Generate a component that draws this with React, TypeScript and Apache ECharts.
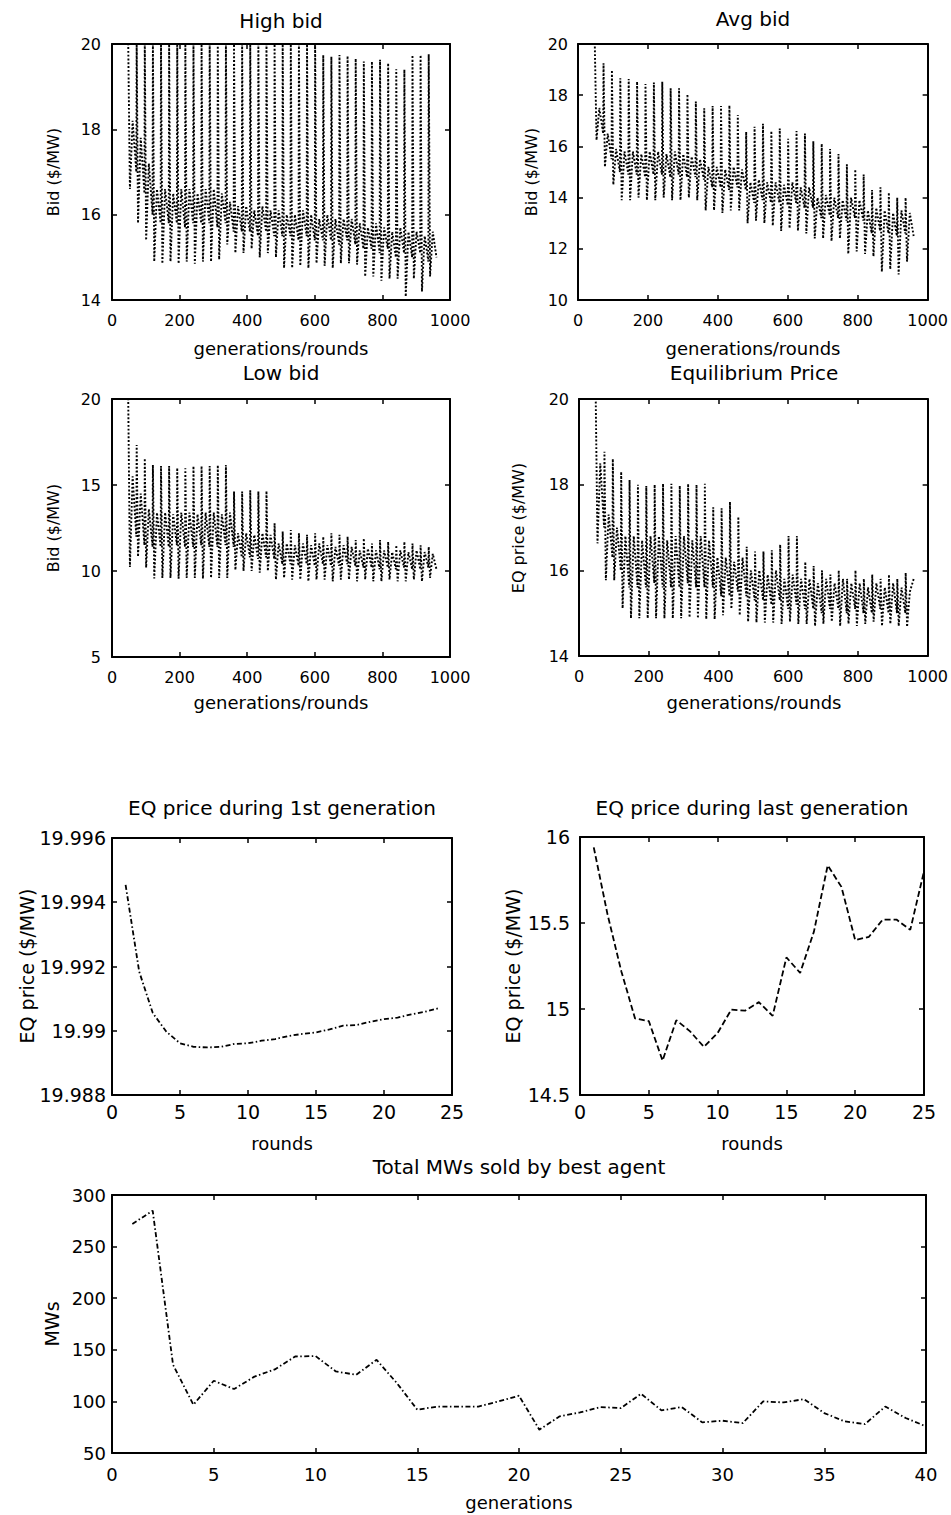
import React, { useEffect, useRef } from "react";
import * as echarts from "echarts";

const FONT = "'DejaVu Sans', sans-serif";

// ---------- data ----------
// Dense panels: 40 generations x 24 rounds. For each generation the values read off
// the picture: spike top (round 1), spike bottom, and the two edges of the band.
const ROUNDS_PER_GEN = 24;
const GEN_KEY_ROUNDS = [1, 5, 13, 24];

const HIGH_TOP = [20, 20, 20, 20, 20, 20, 20, 20, 20, 20, 20, 20, 20, 20, 20, 20, 20, 20, 20, 20, 20, 20, 20, 20, 20, 20, 19.74, 19.7, 19.74, 19.72, 19.66, 19.59, 19.59, 19.63, 19.55, 19.41, 19.4, 19.74, 19.74, 19.76];
const HIGH_LOW = [20, 20, 16.6, 15.8, 15.4, 14.9, 14.85, 14.9, 14.85, 14.9, 14.85, 14.9, 14.9, 14.95, 15.3, 15.1, 15.1, 15.2, 15.0, 15.1, 15.0, 14.75, 14.75, 14.8, 14.75, 14.86, 14.8, 14.75, 14.86, 14.86, 14.83, 14.55, 14.55, 14.45, 14.5, 14.5, 14.08, 14.5, 14.2, 14.55];
const HIGH_BAND_HI = [20, 20, 18.2, 17.8, 17.2, 16.6, 16.6, 16.5, 16.6, 16.6, 16.5, 16.6, 16.6, 16.5, 16.3, 16.2, 16.2, 16.1, 16.2, 16.1, 16.1, 16.0, 16.0, 16.1, 16.0, 15.9, 16.0, 15.9, 15.9, 15.9, 15.8, 15.7, 15.8, 15.7, 15.6, 15.7, 15.6, 15.6, 15.5, 15.6];
const HIGH_BAND_LO = [20, 20, 17.0, 16.5, 16.0, 15.8, 15.8, 15.8, 15.7, 15.8, 15.8, 15.8, 15.7, 15.8, 15.6, 15.6, 15.6, 15.5, 15.6, 15.5, 15.5, 15.5, 15.4, 15.5, 15.4, 15.4, 15.4, 15.3, 15.4, 15.3, 15.2, 15.2, 15.1, 15.2, 15.0, 15.1, 15.0, 15.1, 14.9, 15.0];

const AVG_TOP = [20, 20, 20, 19.25, 18.98, 18.66, 18.63, 18.53, 18.44, 18.5, 18.53, 18.27, 18.27, 18.04, 17.75, 17.49, 17.58, 17.58, 17.6, 17.23, 16.57, 16.77, 16.88, 16.6, 16.7, 16.3, 16.6, 16.5, 16.2, 16.1, 15.9, 15.7, 15.3, 15.1, 14.9, 14.3, 14.4, 14.2, 14.0, 14.0];
const AVG_LOW = [20, 20, 16.25, 15.2, 14.5, 13.9, 13.9, 14.0, 13.9, 13.9, 14.0, 13.9, 13.9, 14.0, 13.9, 13.5, 13.5, 13.4, 13.5, 13.5, 13.0, 13.1, 13.0, 12.9, 12.7, 12.8, 12.7, 12.6, 12.4, 12.4, 12.3, 12.4, 11.8, 11.9, 11.8, 11.7, 11.1, 11.2, 11.0, 11.5];
const AVG_BAND_HI = [20, 20, 17.5, 16.5, 15.9, 15.8, 15.8, 15.7, 15.8, 15.8, 15.7, 15.8, 15.7, 15.6, 15.5, 15.2, 15.2, 15.1, 15.2, 15.1, 14.6, 14.7, 14.6, 14.6, 14.5, 14.6, 14.4, 14.4, 14.0, 14.1, 14.0, 13.9, 14.0, 13.9, 13.5, 13.6, 13.5, 13.4, 13.5, 13.4];
const AVG_BAND_LO = [20, 20, 16.5, 15.5, 15.0, 14.9, 14.9, 14.8, 14.9, 14.9, 14.8, 14.9, 14.8, 14.8, 14.7, 14.4, 14.4, 14.3, 14.4, 14.3, 13.8, 13.9, 13.8, 13.8, 13.7, 13.8, 13.6, 13.6, 13.2, 13.3, 13.2, 13.1, 13.2, 13.1, 12.6, 12.7, 12.6, 12.5, 12.6, 12.5];

const LOW_TOP = [20, 20, 20, 17.33, 16.55, 16.16, 16.1, 16.1, 16.0, 15.97, 16.1, 16.1, 16.1, 16.16, 16.16, 14.62, 14.62, 14.7, 14.62, 14.65, 12.78, 12.29, 12.38, 12.2, 12.1, 12.2, 12.0, 12.2, 12.1, 12.0, 11.8, 11.9, 11.6, 11.8, 11.7, 11.5, 11.7, 11.6, 11.5, 11.4];
const LOW_LOW = [20, 20, 10.23, 10.83, 10.2, 9.57, 9.6, 9.6, 9.55, 9.6, 9.6, 9.55, 9.6, 9.6, 9.6, 10.06, 10.0, 10.0, 9.9, 10.0, 9.5, 9.6, 9.5, 9.5, 9.4, 9.5, 9.5, 9.4, 9.5, 9.5, 9.4, 9.5, 9.4, 9.4, 9.5, 9.4, 9.4, 9.5, 9.4, 9.6];
const LOW_BAND_HI = [20, 20, 15.5, 14.5, 13.6, 13.4, 13.4, 13.3, 13.4, 13.4, 13.3, 13.4, 13.4, 13.3, 13.4, 12.2, 12.2, 12.1, 12.2, 12.1, 11.6, 11.6, 11.5, 11.6, 11.5, 11.6, 11.5, 11.4, 11.5, 11.4, 11.2, 11.3, 11.2, 11.2, 11.1, 11.2, 11.1, 11.2, 11.1, 11.0];
const LOW_BAND_LO = [20, 20, 12.0, 11.5, 11.4, 11.4, 11.4, 11.5, 11.4, 11.4, 11.5, 11.4, 11.4, 11.5, 11.4, 10.8, 10.8, 10.7, 10.8, 10.7, 10.4, 10.4, 10.3, 10.4, 10.3, 10.4, 10.3, 10.3, 10.4, 10.3, 10.2, 10.2, 10.1, 10.2, 10.1, 10.2, 10.1, 10.1, 10.2, 10.1];

const EQ_TOP = [20, 20, 20, 18.77, 18.6, 18.3, 18.11, 18.0, 17.97, 18.0, 18.02, 18.02, 17.97, 18.02, 18.0, 18.02, 17.47, 17.45, 17.6, 17.25, 16.55, 16.44, 16.44, 16.47, 16.6, 16.8, 16.8, 16.2, 16.1, 16.0, 15.9, 16.0, 15.8, 16.0, 15.8, 15.9, 15.8, 15.9, 15.8, 15.94];
const EQ_LOW = [20, 20, 16.63, 15.77, 15.77, 15.11, 14.88, 14.88, 14.88, 14.88, 14.88, 14.88, 14.88, 14.9, 14.88, 14.86, 14.86, 14.95, 15.1, 14.95, 14.8, 14.78, 14.78, 14.78, 14.75, 14.8, 14.75, 14.75, 14.7, 14.75, 14.8, 14.7, 14.75, 14.7, 14.75, 14.8, 14.7, 14.75, 14.7, 14.68];
const EQ_BAND_HI = [20, 20, 18.5, 17.3, 17.0, 16.8, 16.8, 16.7, 16.8, 16.8, 16.7, 16.8, 16.8, 16.7, 16.8, 16.7, 16.3, 16.3, 16.2, 16.3, 16.0, 16.0, 15.9, 16.0, 15.8, 15.9, 15.8, 15.8, 15.7, 15.8, 15.7, 15.8, 15.7, 15.7, 15.6, 15.7, 15.6, 15.7, 15.6, 15.5];
const EQ_BAND_LO = [20, 20, 17.0, 16.3, 16.0, 15.6, 15.6, 15.6, 15.7, 15.6, 15.6, 15.6, 15.7, 15.6, 15.6, 15.6, 15.4, 15.4, 15.5, 15.4, 15.3, 15.3, 15.2, 15.3, 15.1, 15.2, 15.1, 15.1, 15.0, 15.1, 15.1, 15.0, 15.1, 15.0, 15.0, 15.1, 15.0, 15.0, 15.0, 15.8];

// EQ price during 1st generation (rounds 1..24)
const FIRST_GEN_ROUNDS = [1, 2, 3, 4, 5, 6, 7, 8, 9, 10, 11, 12, 13, 14, 15, 16, 17, 18, 19, 20, 21, 22, 23, 24];
const FIRST_GEN_PRICE = [19.99454, 19.99184, 19.99055, 19.98997, 19.98961, 19.9895, 19.98948, 19.9895, 19.98959, 19.98961, 19.98969, 19.98974, 19.98984, 19.9899, 19.98995, 19.99004, 19.99016, 19.99018, 19.99028, 19.99036, 19.99041, 19.99051, 19.99059, 19.9907];

// EQ price during last generation (rounds 1..25)
const LAST_GEN_ROUNDS = [1, 2, 3, 4, 5, 6, 7, 8, 9, 10, 11, 12, 13, 14, 15, 16, 17, 18, 19, 20, 21, 22, 23, 24, 25];
const LAST_GEN_PRICE = [15.94, 15.55, 15.22, 14.945, 14.93, 14.7, 14.935, 14.87, 14.78, 14.86, 14.997, 14.99, 15.04, 14.96, 15.3, 15.21, 15.45, 15.835, 15.71, 15.4, 15.42, 15.52, 15.52, 15.46, 15.8];

// Total MWs sold by best agent (generations 1..40)
const GENERATIONS = Array.from({ length: 40 }, (_, i) => i + 1);
const MWS_SOLD = [272, 284.8, 135.5, 96.8, 120, 112, 124, 131, 143.5, 144, 129, 125.8, 140.3, 117.7, 92, 95, 95, 95, 100, 105.5, 72.6, 85.5, 89.3, 94.5, 93.5, 107.4, 91.3, 94.5, 79.7, 81.3, 79, 100, 99, 102.2, 88.7, 80.6, 78, 95, 83.9, 75.8];

// ---------- helpers ----------
function genData(top: number[], low: number[], hi: number[], lo: number[]) {
  const out: number[][] = [];
  for (let g = 0; g < top.length; g++) {
    const base = g * ROUNDS_PER_GEN;
    const vals = [top[g], low[g], hi[g], lo[g]];
    GEN_KEY_ROUNDS.forEach((r, k) => out.push([base + r, vals[k]]));
  }
  return out;
}

const AXIS_LINE = { show: true, onZero: false, lineStyle: { color: "#000", width: 2 } };
const TICK = { show: true, inside: true, length: 5, lineStyle: { color: "#000", width: 1.5 } };

type Box = {
  left: number; top: number; width: number; height: number;
  xMin: number; xMax: number; xInt: number;
  yMin: number; yMax: number; yInt: number;
  font: number; xMargin: number; yMargin: number;
  yFmt?: (v: number) => string;
};

function buildOption() {
  const boxes: Box[] = [
    { left: 112, top: 44, width: 338, height: 256, xMin: 0, xMax: 1000, xInt: 200, yMin: 14, yMax: 20, yInt: 2, font: 16, xMargin: 12, yMargin: 11 },
    { left: 578, top: 44, width: 350, height: 256, xMin: 0, xMax: 1000, xInt: 200, yMin: 10, yMax: 20, yInt: 2, font: 16, xMargin: 12, yMargin: 10 },
    { left: 112, top: 399, width: 338, height: 258, xMin: 0, xMax: 1000, xInt: 200, yMin: 5, yMax: 20, yInt: 5, font: 16, xMargin: 12, yMargin: 11 },
    { left: 579, top: 399, width: 350, height: 257, xMin: 0, xMax: 1000, xInt: 200, yMin: 14, yMax: 20, yInt: 2, font: 16, xMargin: 12, yMargin: 10 },
    { left: 112, top: 838, width: 340, height: 257, xMin: 0, xMax: 25, xInt: 5, yMin: 19.988, yMax: 19.996, yInt: 0.002, font: 19, xMargin: 7, yMargin: 6, yFmt: (v) => String(+v.toFixed(3)) },
    { left: 580, top: 837, width: 344, height: 258, xMin: 0, xMax: 25, xInt: 5, yMin: 14.5, yMax: 16, yInt: 0.5, font: 19, xMargin: 7, yMargin: 10 },
    { left: 112, top: 1195, width: 814, height: 258, xMin: 0, xMax: 40, xInt: 5, yMin: 50, yMax: 300, yInt: 50, font: 18, xMargin: 12, yMargin: 6 },
  ];

  const plain = (v: number) => String(+v.toFixed(6));
  const grid: any[] = [];
  const xAxis: any[] = [];
  const yAxis: any[] = [];
  boxes.forEach((b, i) => {
    grid.push({ left: b.left, top: b.top, width: b.width, height: b.height, show: false });
    const xCommon = { type: "value", gridIndex: i, min: b.xMin, max: b.xMax, interval: b.xInt, splitLine: { show: false }, axisLine: AXIS_LINE, axisTick: TICK };
    const yCommon = { type: "value", gridIndex: i, min: b.yMin, max: b.yMax, interval: b.yInt, splitLine: { show: false }, axisLine: AXIS_LINE, axisTick: TICK };
    xAxis.push({ ...xCommon, position: "bottom", axisLabel: { color: "#000", fontFamily: FONT, fontSize: b.font, margin: b.xMargin, formatter: plain } });
    xAxis.push({ ...xCommon, position: "top", axisLabel: { show: false } });
    yAxis.push({ ...yCommon, position: "left", axisLabel: { color: "#000", fontFamily: FONT, fontSize: b.font, margin: b.yMargin, formatter: b.yFmt || plain } });
    yAxis.push({ ...yCommon, position: "right", axisLabel: { show: false } });
  });

  const dotted = { color: "#000", width: 1.9, type: [1.9, 1.9] as any };
  const dense = (i: number, data: number[][]) => ({
    type: "line", xAxisIndex: 2 * i, yAxisIndex: 2 * i, data, showSymbol: false, symbol: "none",
    lineStyle: dotted, clip: true, silent: true,
  });

  const series: any[] = [
    dense(0, genData(HIGH_TOP, HIGH_LOW, HIGH_BAND_HI, HIGH_BAND_LO)),
    dense(1, genData(AVG_TOP, AVG_LOW, AVG_BAND_HI, AVG_BAND_LO)),
    dense(2, genData(LOW_TOP, LOW_LOW, LOW_BAND_HI, LOW_BAND_LO)),
    dense(3, genData(EQ_TOP, EQ_LOW, EQ_BAND_HI, EQ_BAND_LO)),
    {
      type: "line", xAxisIndex: 8, yAxisIndex: 8, showSymbol: false, symbol: "none",
      data: FIRST_GEN_ROUNDS.map((r, k) => [r, FIRST_GEN_PRICE[k]]),
      lineStyle: { color: "#000", width: 1.8, type: [5, 2.5, 1.5, 2.5] },
    },
    {
      type: "line", xAxisIndex: 10, yAxisIndex: 10, showSymbol: false, symbol: "none",
      data: LAST_GEN_ROUNDS.map((r, k) => [r, LAST_GEN_PRICE[k]]),
      lineStyle: { color: "#000", width: 1.8, type: [6, 3] },
    },
    {
      type: "line", xAxisIndex: 12, yAxisIndex: 12, showSymbol: false, symbol: "none",
      data: GENERATIONS.map((g, k) => [g, MWS_SOLD[k]]),
      lineStyle: { color: "#000", width: 1.8, type: [5, 2.5, 1.5, 2.5] },
    },
  ];

  const txt = (text: string, x: number, y: number, size: number, rotate = false) => ({
    type: "text", x, y, rotation: rotate ? Math.PI / 2 : 0, silent: true,
    style: { text, fill: "#000", font: `${size}px ${FONT}`, textAlign: "center", textVerticalAlign: "middle" },
  });

  const graphic = [
    txt("High bid", 281, 21, 20),
    txt("Avg bid", 753, 19, 20),
    txt("Low bid", 281, 373, 20),
    txt("Equilibrium Price", 754, 373, 20),
    txt("generations/rounds", 281, 348, 18),
    txt("generations/rounds", 753, 348, 18),
    txt("generations/rounds", 281, 702, 18),
    txt("generations/rounds", 754, 702, 18),
    txt("Bid ($/MW)", 53, 172, 16, true),
    txt("Bid ($/MW)", 531, 172, 16, true),
    txt("Bid ($/MW)", 53, 528, 16, true),
    txt("EQ price ($/MW)", 518, 528, 16, true),
    txt("EQ price during 1st generation", 282, 808, 20),
    txt("EQ price during last generation", 752, 808, 20),
    txt("rounds", 282, 1143, 18),
    txt("rounds", 752, 1143, 18),
    txt("EQ price ($/MW)", 27, 966, 19, true),
    txt("EQ price ($/MW)", 513, 966, 19, true),
    txt("Total MWs sold by best agent", 519, 1167, 20),
    txt("generations", 519, 1502, 18),
    txt("MWs", 52, 1324, 19, true),
  ];

  return { animation: false, backgroundColor: "#fff", grid, xAxis, yAxis, series, graphic };
}

export default function App() {
  const ref = useRef<HTMLDivElement>(null);
  useEffect(() => {
    const chart = echarts.init(ref.current!, null, { renderer: "svg" });
    chart.setOption(buildOption() as any);
    return () => chart.dispose();
  }, []);
  return (
    <div
      ref={ref}
      style={{ position: "absolute", left: 0, top: 0, width: 951, height: 1515, background: "#fff" }}
    />
  );
}
